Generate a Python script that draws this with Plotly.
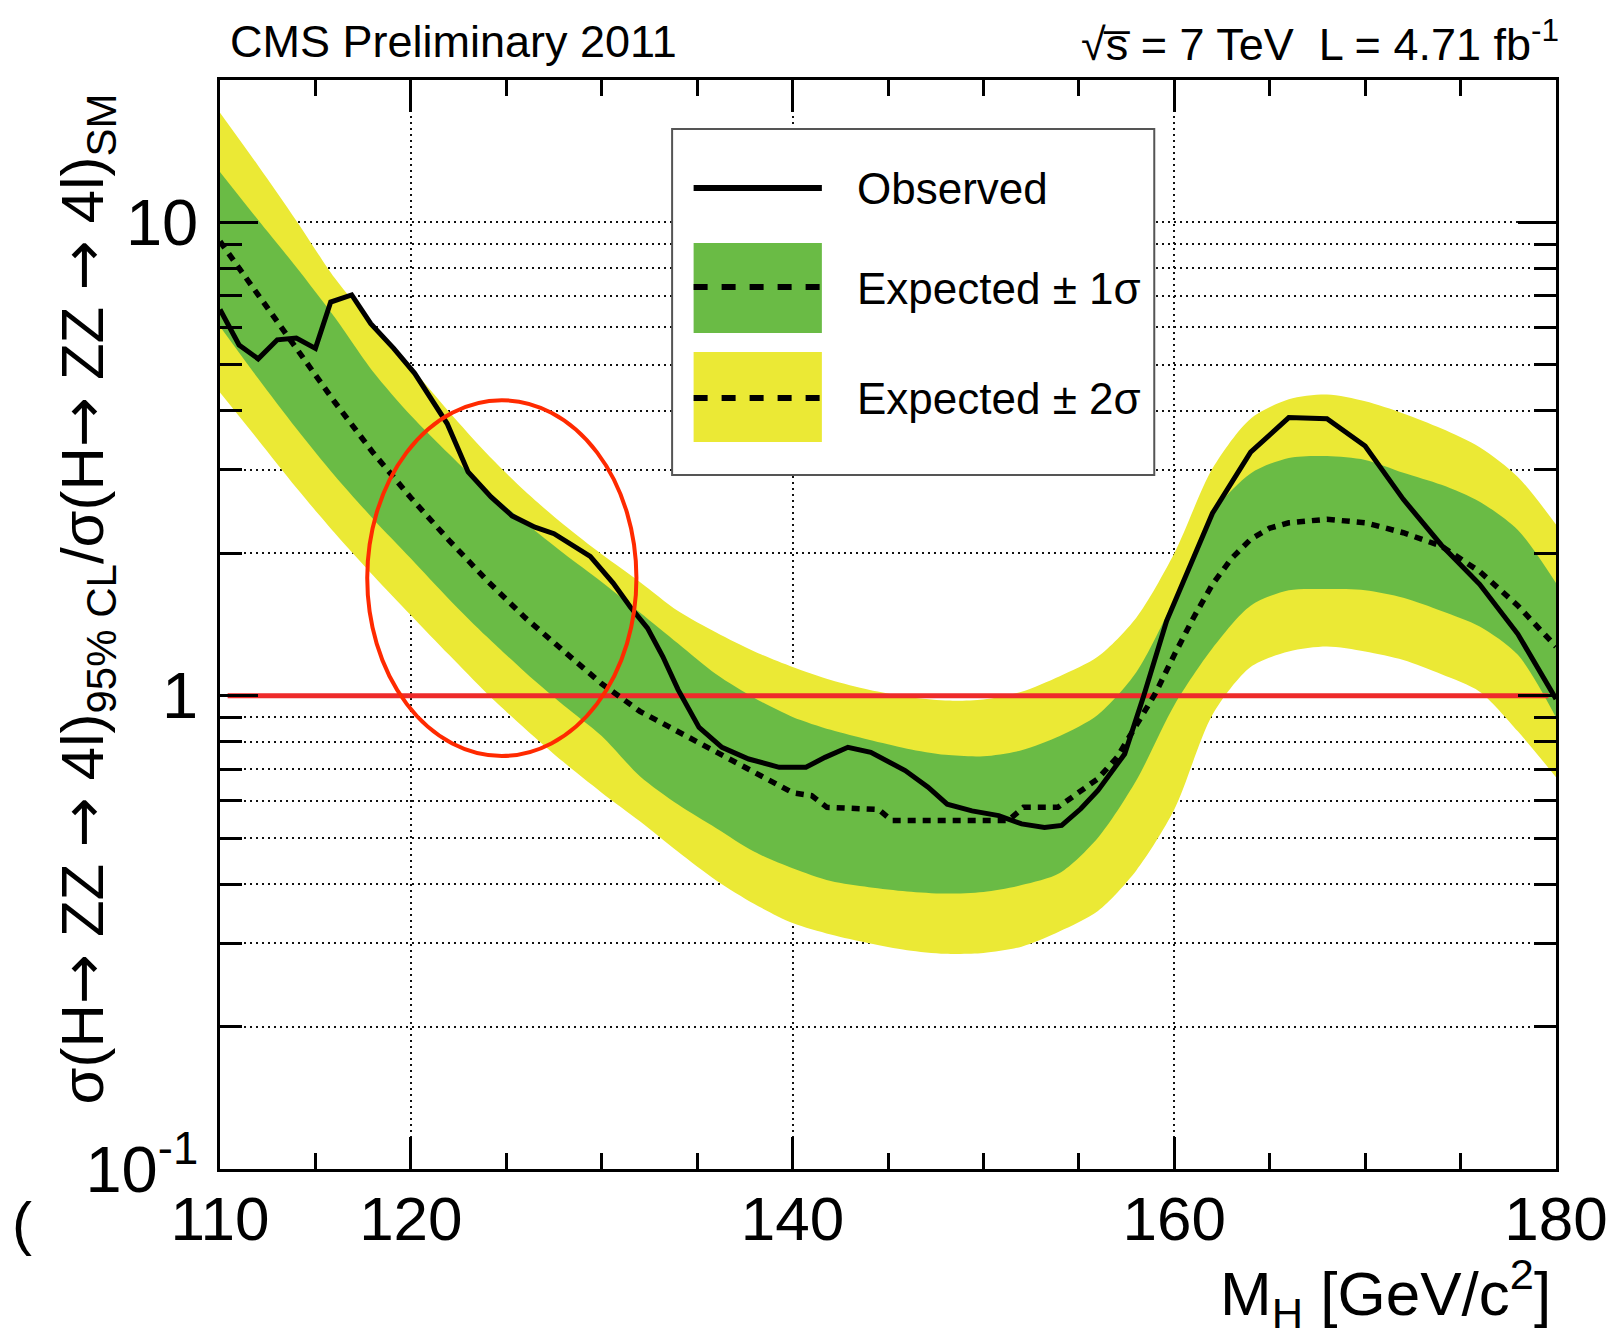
import math
import plotly.graph_objects as go

# Higgs mass points (GeV/c^2) used for the expected-limit bands
MASS_BAND = [110, 112, 114, 116, 118, 120, 122, 124, 126, 128, 130, 132,
             134, 136, 138, 140, 142, 144, 146, 148, 150, 152, 154, 156,
             158, 160, 162, 164, 166, 168, 170, 172, 174, 176, 178, 180]

# Expected +/- 2 sigma band edges
BAND_2S_UP = [17.06, 13.18, 10.09, 7.64, 6.10, 4.95, 3.98, 3.24, 2.70, 2.30, 1.99, 1.74,
              1.51, 1.36, 1.24, 1.15, 1.08, 1.03, 0.995, 0.977, 0.982, 1.02, 1.10, 1.21,
              1.46, 2.00, 3.02, 3.85, 4.23, 4.33, 4.19, 3.95, 3.67, 3.35, 2.90, 2.30]
BAND_2S_DN = [4.37, 3.47, 2.75, 2.21, 1.80, 1.48, 1.22, 1.01, 0.851, 0.724, 0.624, 0.543,
              0.468, 0.407, 0.363, 0.331, 0.313, 0.300, 0.290, 0.285, 0.286, 0.295, 0.318, 0.351,
              0.427, 0.575, 0.912, 1.15, 1.24, 1.27, 1.24, 1.19, 1.11, 1.02, 0.841, 0.673]

# Expected +/- 1 sigma band edges
BAND_1S_UP = [12.79, 10.12, 8.04, 6.31, 4.85, 3.91, 3.24, 2.71, 2.32, 2.00, 1.74, 1.50,
              1.29, 1.11, 0.989, 0.902, 0.847, 0.807, 0.773, 0.750, 0.745, 0.767, 0.822, 0.912,
              1.12, 1.60, 2.43, 2.95, 3.18, 3.21, 3.15, 2.96, 2.79, 2.57, 2.24, 1.73]
BAND_1S_DN = [6.03, 4.68, 3.67, 2.92, 2.37, 1.95, 1.60, 1.33, 1.12, 0.955, 0.822, 0.676,
              0.589, 0.525, 0.468, 0.432, 0.406, 0.394, 0.386, 0.382, 0.385, 0.398, 0.422, 0.501,
              0.661, 0.955, 1.26, 1.55, 1.67, 1.68, 1.67, 1.61, 1.51, 1.40, 1.22, 0.90]

# Median expected limit
MASS_EXP = [110, 112, 114, 116, 118, 120, 122, 124, 126, 128, 130, 132, 134, 136, 138,
            140, 141, 141.8, 144.5, 145.2, 151.3, 152.1, 153.9, 154.6, 156, 157, 158, 159,
            160, 161, 162, 163, 164, 165, 166, 168, 170, 172, 174, 176, 178, 180]
EXPECTED = [9.12, 7.03, 5.43, 4.18, 3.27, 2.62, 2.13, 1.75, 1.46, 1.24, 1.06, 0.927, 0.841,
            0.762, 0.689, 0.624, 0.615, 0.581, 0.575, 0.545, 0.545, 0.581, 0.581, 0.610, 0.668,
            0.741, 0.861, 1.01, 1.22, 1.46, 1.72, 1.95, 2.14, 2.26, 2.32, 2.36, 2.32, 2.21,
            2.07, 1.83, 1.55, 1.27]

# Observed limit
MASS_OBS = [110.0, 111.0, 112.0, 113.0, 114.0, 115.0, 115.8, 116.9, 117.9, 119.1, 120.2,
            121.2, 121.9, 123.0, 124.2, 125.3, 126.5, 127.5, 128.5, 129.4, 130.6, 131.5,
            132.4, 133.2, 134.0, 135.1, 136.3, 137.7, 139.3, 140.7, 141.7, 142.9, 144.1,
            145.9, 147.1, 148.1, 149.4, 150.8, 152.0, 153.2, 154.1, 155.1, 156.0, 157.4,
            158.4, 159.6, 162.0, 164.0, 166.0, 168.0, 170.0, 172.0, 174.0, 176.0, 178.0, 180.0]
OBSERVED = [6.55, 5.51, 5.15, 5.65, 5.70, 5.42, 6.79, 7.03, 6.11, 5.42, 4.80, 4.17, 3.76,
            2.97, 2.63, 2.40, 2.27, 2.20, 2.08, 1.97, 1.73, 1.54, 1.39, 1.21, 1.03, 0.857,
            0.778, 0.735, 0.706, 0.706, 0.741, 0.778, 0.759, 0.695, 0.641, 0.590, 0.571,
            0.558, 0.536, 0.527, 0.532, 0.577, 0.631, 0.753, 1.00, 1.44, 2.43, 3.27, 3.87,
            3.85, 3.37, 2.60, 2.08, 1.72, 1.35, 0.984]

SM_LIMIT = 1.0
SM_LINE_MASS = [110.4, 179.6]

X_TICKS = [110, 120, 140, 160, 180]
Y_TICKS = [0.1, 1, 10]
Y_TICK_TEXT = ["10<sup>-1</sup>", "1", "10"]
Y_MINOR = [0.2, 0.3, 0.4, 0.5, 0.6, 0.7, 0.8, 0.9, 2, 3, 4, 5, 6, 7, 8, 9]

FONT = "Liberation Sans, Arial, sans-serif"
ARROW_FONT = "DejaVu Sans"
YELLOW = "#ebe935"
GREEN = "#6abb45"
GRID = "#111111"
GRID_DASH = "2px,4px"

fig = go.Figure()

band_line = dict(width=0, shape="spline", smoothing=0.8)

# 2 sigma band
fig.add_trace(go.Scatter(x=MASS_BAND, y=BAND_2S_DN, mode="lines", line=band_line,
                         hoverinfo="skip", showlegend=False))
fig.add_trace(go.Scatter(x=MASS_BAND, y=BAND_2S_UP, mode="lines", fill="tonexty",
                         fillcolor=YELLOW, line=band_line,
                         hoverinfo="skip", showlegend=False))
# 1 sigma band
fig.add_trace(go.Scatter(x=MASS_BAND, y=BAND_1S_DN, mode="lines", line=band_line,
                         hoverinfo="skip", showlegend=False))
fig.add_trace(go.Scatter(x=MASS_BAND, y=BAND_1S_UP, mode="lines", fill="tonexty",
                         fillcolor=GREEN, line=band_line,
                         hoverinfo="skip", showlegend=False))
# SM reference at 1
fig.add_trace(go.Scatter(x=SM_LINE_MASS, y=[SM_LIMIT, SM_LIMIT], mode="lines",
                         line=dict(color="#ee2b2b", width=5), showlegend=False))
# expected median
fig.add_trace(go.Scatter(x=MASS_EXP, y=EXPECTED, mode="lines",
                         line=dict(color="black", width=5.5, dash="8px,7px"),
                         showlegend=False))
# observed
fig.add_trace(go.Scatter(x=MASS_OBS, y=OBSERVED, mode="lines",
                         line=dict(color="black", width=5), showlegend=False))

axis_common = dict(
    ticks="inside", tickcolor="black", tickwidth=2.5,
    showline=True, linecolor="black", linewidth=2.5, mirror="allticks",
    showgrid=True, gridcolor=GRID, griddash=GRID_DASH, gridwidth=1.5,
    zeroline=False,
)

fig.update_xaxes(
    range=[110, 180], tickmode="array", tickvals=X_TICKS, ticklen=32,
    tickfont=dict(family=FONT, size=62, color="black"), ticklabelstandoff=-6,
    minor=dict(tick0=110, dtick=5, ticks="inside", ticklen=16, tickwidth=2.5,
               tickcolor="black", showgrid=False),
    **axis_common,
)
fig.update_yaxes(
    type="log", range=[-1, math.log10(20)], tickmode="array", tickvals=Y_TICKS,
    ticktext=Y_TICK_TEXT, ticklen=38,
    tickfont=dict(family=FONT, size=65, color="black"), ticklabelstandoff=6,
    minor=dict(tickmode="array", tickvals=Y_MINOR, ticks="inside", ticklen=22,
               tickwidth=2.5, tickcolor="black", showgrid=True, gridcolor=GRID,
               griddash=GRID_DASH, gridwidth=1.5),
    **axis_common,
)

# legend box drawn by hand (band swatch with the dashed median on top)
LEG = dict(x0=0.3384, x1=0.6993, y0=0.6373, y1=0.9550)
sx0, sx1 = 0.3545, 0.4505
shapes = [
    dict(type="rect", xref="paper", yref="paper", **LEG,
         line=dict(color="#555555", width=2), fillcolor="white", layer="above"),
    dict(type="line", xref="paper", yref="paper", x0=sx0, x1=sx1, y0=0.9008, y1=0.9008,
         line=dict(color="black", width=6), layer="above"),
    dict(type="rect", xref="paper", yref="paper", x0=sx0, x1=sx1, y0=0.7677, y1=0.8503,
         line=dict(width=0), fillcolor=GREEN, layer="above"),
    dict(type="line", xref="paper", yref="paper", x0=sx0, x1=sx1, y0=0.8099, y1=0.8099,
         line=dict(color="black", width=6, dash="14px,14px"), layer="above"),
    dict(type="rect", xref="paper", yref="paper", x0=sx0, x1=sx1, y0=0.6676, y1=0.7502,
         line=dict(width=0), fillcolor=YELLOW, layer="above"),
    dict(type="line", xref="paper", yref="paper", x0=sx0, x1=sx1, y0=0.7080, y1=0.7080,
         line=dict(color="black", width=6, dash="14px,14px"), layer="above"),
    # highlighted low-mass region
    dict(type="circle", xref="paper", yref="paper", x0=0.1102, x1=0.3117,
         y0=0.3793, y1=0.7059, line=dict(color="#ff2a00", width=4), layer="above"),
]


def label(text, x, y, size, xanchor="left", yanchor="middle", angle=0):
    return dict(text=text, x=x, y=y, xref="paper", yref="paper", showarrow=False,
                xanchor=xanchor, yanchor=yanchor, textangle=angle,
                font=dict(family=FONT, size=size, color="black"))


ARROW = f'<span style="font-family:{ARROW_FONT}">→</span>'
Y_TITLE = (f"σ(H{ARROW} ZZ {ARROW} 4l)<sub>95% CL</sub>"
           f"/σ(H{ARROW} ZZ {ARROW} 4l)<sub>SM</sub>")

annotations = [
    label("CMS Preliminary 2011", 0.006, 1.0358, 45),
    label("√s̅ = 7 TeV  L = 4.71 fb<sup>-1</sup>", 1.0037, 1.0358, 45, xanchor="right"),
    label("M<sub>H</sub> [GeV/c<sup>2</sup>]", 0.9978, -0.1140, 62, xanchor="right"),
    label(Y_TITLE, -0.1000, 0.5234, 60, xanchor="center", angle=-90),
    label("(", -0.148, -0.0505, 60, xanchor="center"),
    label("Observed", 0.4754, 0.9008, 44),
    label("Expected ± 1σ", 0.4754, 0.8081, 44),
    label("Expected ± 2σ", 0.4754, 0.7071, 44),
]

fig.update_layout(
    width=1620, height=1337,
    margin=dict(l=220, r=60, t=80, b=168),
    paper_bgcolor="white", plot_bgcolor="white",
    showlegend=False, shapes=shapes, annotations=annotations,
    font=dict(family=FONT, color="black"),
)

fig.write_html("out.html")
